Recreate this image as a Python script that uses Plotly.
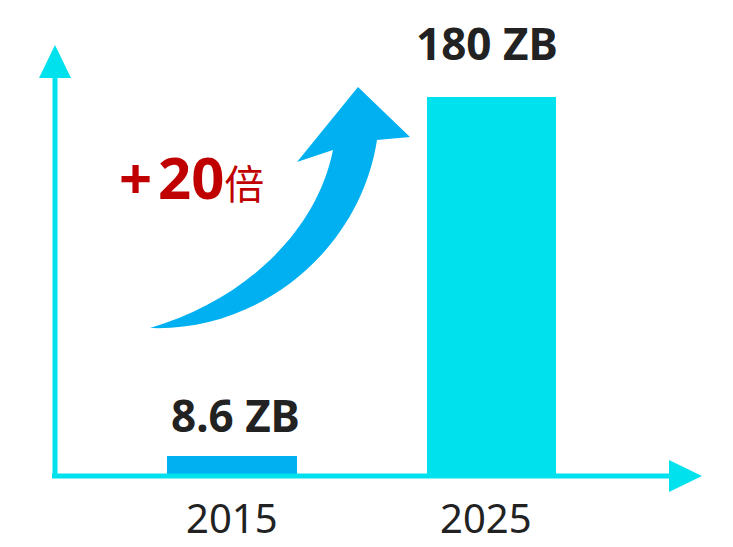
import plotly.graph_objects as go

# ---- data ----
years = ["2015", "2025"]
values = [8.6, 180]
value_labels = ["8.6 ZB", "180 ZB"]
bar_colors = ["#00B0F0", "#00E1EE"]
growth_label = "+20"
growth_unit = "倍"

W, H = 733, 547
AXIS_C = "#00E1EE"
ARROW_C = "#00B0F0"
TEXT_C = "#222222"
RED = "#C00000"


def P(x, y):
    return x / W, 1 - y / H


def path(points_cmds):
    out = []
    for cmd, pts in points_cmds:
        s = " ".join(f"{P(x, y)[0]:.5f},{P(x, y)[1]:.5f}" for x, y in pts)
        out.append(f"{cmd} {s}")
    return " ".join(out) + " Z"


fig = go.Figure()
fig.add_trace(go.Bar(
    x=years, y=values, marker_color=bar_colors, marker_line_width=0,
    width=0.5, hoverinfo="skip",
))

shapes = []
# axis lines
x0, y0 = P(55, 478)
x1, y1 = P(55, 76)
shapes.append(dict(type="line", xref="paper", yref="paper", x0=x0, y0=y0, x1=x1, y1=y1,
                   line=dict(color=AXIS_C, width=5)))
x0, y0 = P(52, 476)
x1, y1 = P(672, 476)
shapes.append(dict(type="line", xref="paper", yref="paper", x0=x0, y0=y0, x1=x1, y1=y1,
                   line=dict(color=AXIS_C, width=5)))
# axis arrowheads
shapes.append(dict(type="path", xref="paper", yref="paper", line_width=0, fillcolor=AXIS_C,
                   path=path([("M", [(39, 78)]), ("L", [(55, 45)]), ("L", [(71, 78)])])))
shapes.append(dict(type="path", xref="paper", yref="paper", line_width=0, fillcolor=AXIS_C,
                   path=path([("M", [(669, 460)]), ("L", [(702, 476)]), ("L", [(669, 492)])])))
# curved growth arrow
shapes.append(dict(type="path", xref="paper", yref="paper", line_width=0, fillcolor=ARROW_C,
                   path=path([
                       ("M", [(150, 328)]),
                       ("C", [(260, 332), (360, 250), (377, 140)]),
                       ("L", [(410, 137)]),
                       ("L", [(358, 87)]),
                       ("L", [(297, 162)]),
                       ("L", [(333, 150)]),
                       ("C", [(316, 235), (240, 302), (150, 328)]),
                   ])))

annotations = []
label_yshift = [9, 22]
label_xshift = [4, -4]
for i, (v, lab, sy, sx) in enumerate(zip(values, value_labels, label_yshift, label_xshift)):
    annotations.append(dict(
        x=i, y=v, xref="x", yref="y", text=f"<b>{lab}</b>", showarrow=False,
        xanchor="center", yanchor="bottom", yshift=sy, xshift=sx,
        font=dict(family="Noto Sans", size=44, color=TEXT_C),
    ))
# year labels under the axis
year_xshift = [0, -5]
for i, (yr, sx) in enumerate(zip(years, year_xshift)):
    annotations.append(dict(
        x=i, y=P(0, 517)[1], xref="x", yref="paper", text=yr, showarrow=False,
        xanchor="center", yanchor="middle", xshift=sx,
        font=dict(family="Noto Sans", size=40, color=TEXT_C),
    ))
gx, gy = P(191, 176)
annotations.append(dict(
    x=gx, y=gy, xref="paper", yref="paper", showarrow=False,
    xanchor="center", yanchor="middle",
    text=(f"<b>{growth_label[0]}&#8202;{growth_label[1:]}</b>"
          f"<span style='font-family:\"Noto Sans CJK SC\";font-size:40px'>{growth_unit}</span>"),
    font=dict(family="Noto Sans", size=58, color=RED),
))

fig.update_layout(
    width=W, height=H,
    margin=dict(l=0, r=0, t=0, b=0),
    paper_bgcolor="white", plot_bgcolor="white",
    template="none",
    showlegend=False,
    shapes=shapes,
    annotations=annotations,
    bargap=0,
    xaxis=dict(
        type="category", categoryorder="array", categoryarray=years,
        range=[-0.894, 1.931], showticklabels=False,
        showline=False, showgrid=False, zeroline=False, ticks="",
        automargin=False, fixedrange=True,
    ),
    yaxis=dict(range=[-34.85, 226.3], visible=False, automargin=False, fixedrange=True),
)

fig.write_html("out.html", config={"displayModeBar": False},
               post_script="document.body.style.margin='0';")
